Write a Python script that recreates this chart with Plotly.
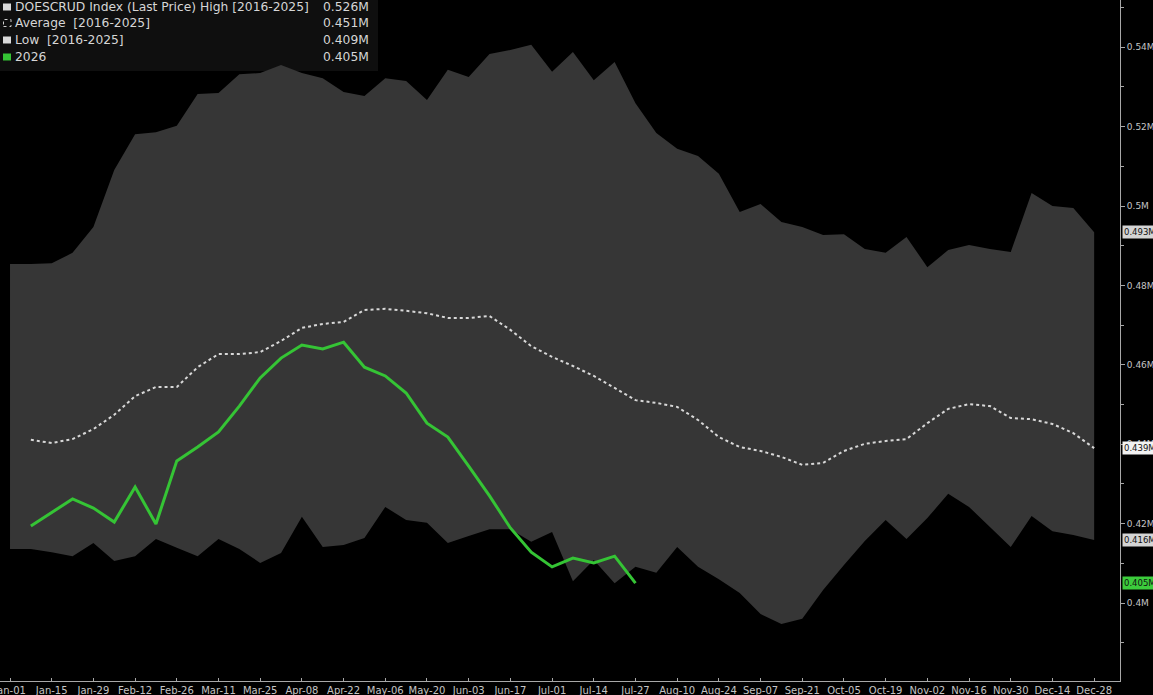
import plotly.graph_objects as go

# ---------------- data ----------------
weeks = list(range(53))  # weekly index, Jan-01 = 0
tick_weeks = list(range(0, 53, 2))
tick_labels = ["Jan-01", "Jan-15", "Jan-29", "Feb-12", "Feb-26", "Mar-11", "Mar-25",
               "Apr-08", "Apr-22", "May-06", "May-20", "Jun-03", "Jun-17", "Jul-01",
               "Jul-14", "Jul-27", "Aug-10", "Aug-24", "Sep-07", "Sep-21", "Oct-05",
               "Oct-19", "Nov-02", "Nov-16", "Nov-30", "Dec-14", "Dec-28"]

high = [0.4854, 0.4854, 0.4856, 0.4882, 0.4947, 0.5091, 0.5181, 0.5186, 0.5202, 0.5282,
        0.5285, 0.5332, 0.5335, 0.5355, 0.5335, 0.5322, 0.5287, 0.5277, 0.5322, 0.5315,
        0.5267, 0.5343, 0.5325, 0.5383, 0.5393, 0.5406, 0.5338, 0.5388, 0.5317, 0.5363,
        0.5259, 0.5184, 0.5144, 0.5126, 0.5081, 0.4985, 0.5005, 0.4960, 0.4947, 0.4927,
        0.4929, 0.4892, 0.4882, 0.4922, 0.4846, 0.4889, 0.4902, 0.4892, 0.4884, 0.5033,
        0.5000, 0.4995, 0.4934]

low = [0.4136, 0.4136, 0.4128, 0.4118, 0.4151, 0.4106, 0.4118, 0.4161, 0.4139, 0.4118,
       0.4161, 0.4136, 0.4101, 0.4126, 0.4217, 0.4141, 0.4146, 0.4164, 0.4242, 0.4209,
       0.4202, 0.4151, 0.4169, 0.4186, 0.4186, 0.4154, 0.4179, 0.4055, 0.4108, 0.4050,
       0.4091, 0.4076, 0.4141, 0.4091, 0.4060, 0.4025, 0.3972, 0.3947, 0.3960, 0.4033,
       0.4096, 0.4156, 0.4209, 0.4161, 0.4214, 0.4275, 0.4242, 0.4191, 0.4141, 0.4219,
       0.4181, 0.4171, 0.4159]

# average starts at week 1
average = [0.4411, 0.4403, 0.4413, 0.4438, 0.4474, 0.4521, 0.4544, 0.4544, 0.4594,
           0.4627, 0.4627, 0.4632, 0.4660, 0.4693, 0.4703, 0.4708, 0.4738, 0.4741, 0.4736,
           0.4730, 0.4718, 0.4718, 0.4723, 0.4688, 0.4647, 0.4620, 0.4597, 0.4572, 0.4542,
           0.4511, 0.4504, 0.4494, 0.4461, 0.4418, 0.4393, 0.4383, 0.4368, 0.4348, 0.4353,
           0.4383, 0.4401, 0.4408, 0.4413, 0.4453, 0.4489, 0.4501, 0.4496, 0.4466, 0.4463,
           0.4451, 0.4428, 0.4390]

# 2026 starts at week 1, ends at week 30
y2026 = [0.4194, 0.4227, 0.4262, 0.4239, 0.4204, 0.4292, 0.4199, 0.4358, 0.4393, 0.4431,
         0.4496, 0.4567, 0.4617, 0.4650, 0.4640, 0.4657, 0.4594, 0.4572, 0.4529, 0.4453,
         0.4418, 0.4345, 0.4270, 0.4189, 0.4128, 0.4091, 0.4113, 0.4101, 0.4118, 0.4050]

y_tick_vals = [0.40, 0.42, 0.44, 0.46, 0.48, 0.50, 0.52, 0.54]
y_tick_text = ["0.4M", "0.42M", "0.44M", "0.46M", "0.48M", "0.5M", "0.52M", "0.54M"]

legend_names = ["DOESCRUD Index (Last Price) High [2016-2025]",
                "Average  [2016-2025]",
                "Low  [2016-2025]",
                "2026"]

# ---------------- styling ----------------
BAND = "#363636"
GREEN = "#35c435"
AVG = "#d8d8d8"
TXT = "#d6d6d6"
AXC = "#a8a8a8"
FONT = "DejaVu Sans"

W, H = 1153, 695
ML, MR, MT, MB = 0, 33, 0, 14
PW, PH = W - ML - MR, H - MT - MB

def px(x):
    return x / PW

def py(y):
    return 1 - y / PH

avg_x = weeks[1:1 + len(average)]
g_x = weeks[1:1 + len(y2026)]
cur = len(y2026)  # current week index (30)

fig = go.Figure()
fig.add_trace(go.Scatter(x=weeks, y=low, mode="lines", line=dict(width=0, color=BAND),
                         hoverinfo="skip", showlegend=False))
fig.add_trace(go.Scatter(x=weeks, y=high, mode="lines", line=dict(width=0, color=BAND),
                         fill="tonexty", fillcolor=BAND, hoverinfo="skip", showlegend=False))
fig.add_trace(go.Scatter(x=avg_x, y=average, mode="lines",
                         line=dict(width=2, color=AVG, dash="dot"), showlegend=False))
fig.add_trace(go.Scatter(x=g_x, y=y2026, mode="lines",
                         line=dict(width=3, color=GREEN), showlegend=False))

shapes = []
annotations = []

# legend box
shapes.append(dict(type="rect", xref="paper", yref="paper", x0=0, x1=px(378), y0=py(71), y1=1,
                   fillcolor="#0f0f0f", line=dict(width=0), layer="below"))
row_y = [7, 23, 40, 57]
cur_vals = [high[cur], average[cur - 1], low[cur], y2026[-1]]
marker_fill = ["#d9d9d9", None, "#d9d9d9", GREEN]
for i, (name, val) in enumerate(zip(legend_names, cur_vals)):
    yc = row_y[i]
    if marker_fill[i] is None:
        shapes.append(dict(type="rect", xref="paper", yref="paper",
                           x0=px(3.5), x1=px(11), y0=py(yc + 3.5), y1=py(yc - 3.5),
                           line=dict(color="#cfcfcf", width=1, dash="dot"), fillcolor="rgba(0,0,0,0)"))
    else:
        shapes.append(dict(type="rect", xref="paper", yref="paper",
                           x0=px(3), x1=px(11), y0=py(yc + 3.5), y1=py(yc - 3.5),
                           line=dict(width=0), fillcolor=marker_fill[i]))
    annotations.append(dict(xref="paper", yref="paper", x=px(13), y=py(yc), text=name,
                            showarrow=False, xanchor="left", yanchor="middle",
                            font=dict(family=FONT, size=12.3, color=TXT)))
    annotations.append(dict(xref="paper", yref="paper", x=px(371), y=py(yc),
                            text=f"{val:.3f}M", showarrow=False, xanchor="right",
                            yanchor="middle", font=dict(family=FONT, size=12.3, color=TXT)))

# value tags on right axis
tags = [(high[-1], "#d4d4d4"), (average[-1], "#f2f2f2"), (low[-1], "#d4d4d4"), (y2026[-1], "#3ccc3c")]
for v, c in tags:
    annotations.append(dict(xref="paper", yref="y", x=1, y=v, text=f"{v:.3f}M",
                            showarrow=False, xanchor="left", yanchor="middle", xshift=2,
                            bgcolor=c, borderpad=1,
                            font=dict(family=FONT, size=8.5, color="#111111")))

fig.update_layout(
    width=W, height=H,
    margin=dict(l=ML, r=MR, t=MT, b=MB),
    paper_bgcolor="black", plot_bgcolor="black",
    shapes=shapes, annotations=annotations,
    showlegend=False,
    xaxis=dict(range=[-0.48, 53.24], tickmode="array", tickvals=tick_weeks, ticktext=tick_labels,
               showgrid=False, zeroline=False, showline=True, linecolor=AXC, linewidth=1,
               ticks="inside", ticklen=3, tickcolor=AXC, ticklabeloverflow="allow",
               tickfont=dict(family=FONT, size=10, color="#c4c4c4"), automargin=False),
    yaxis=dict(side="right", range=[0.38035, 0.5519], tickmode="array", tickvals=y_tick_vals,
               ticktext=y_tick_text, showgrid=False, zeroline=False, showline=True,
               linecolor=AXC, linewidth=1, ticks="outside", ticklen=4, tickcolor=AXC,
               minor=dict(tickmode="linear", tick0=0.39, dtick=0.02, ticks="outside",
                          ticklen=3, tickcolor=AXC),
               tickfont=dict(family=FONT, size=9, color="#c4c4c4"), automargin=False),
)

fig.write_html("out.html", config={"displayModeBar": False},
               post_script="document.body.style.margin='0';document.body.style.background='black';document.body.style.overflow='hidden';")
